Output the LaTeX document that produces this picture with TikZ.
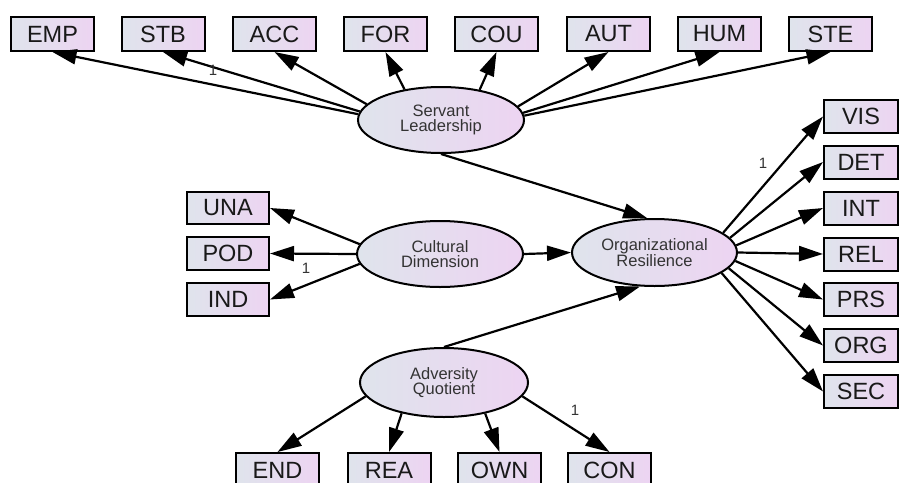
\documentclass[tikz,border=0pt]{standalone}
\usepackage{fontspec}
\setmainfont{Liberation Sans}
\usetikzlibrary{arrows.meta,shapes.geometric}
\definecolor{fillL}{HTML}{DFE4EC}
\definecolor{fillR}{HTML}{EDD4F2}
\definecolor{ltxt}{HTML}{333333}
\tikzset{
  obsbox/.style={draw=black,line width=2pt,left color=fillL,right color=fillR,
    minimum width=83pt,minimum height=34pt,inner sep=0pt,
    font=\fontsize{23.5}{24}\selectfont,text=black!90},
  latent/.style={ellipse,draw=black,line width=2pt,left color=fillL,right color=fillR,
    minimum width=166pt,minimum height=66pt,inner sep=0pt,align=center,
    font=\fontsize{16.5}{15.5}\selectfont,text=ltxt},
  path/.style={line width=2.2pt,-{Triangle[length=24pt,width=15pt]}},
  onelab/.style={font=\fontsize{15}{15}\selectfont,text=ltxt,inner sep=0pt}
}
\begin{document}
\begin{tikzpicture}[x=1pt,y=-1pt]
\useasboundingbox (0,0) rectangle (899,482);
\clip (0,0) rectangle (899,482);
\fill[white] (0,0) rectangle (899,482);
% latent variables
\node[latent] (sl) at (441,120) {Servant\\Leadership};
\node[latent] (cd) at (440,254) {Cultural\\Dimension};
\node[latent,minimum width=165pt,minimum height=67pt] (or) at (654.5,252.5) {Organizational\\Resilience};
\node[latent,minimum width=168pt,minimum height=69pt] (aq) at (444,382.5) {Adversity\\Quotient};
% top indicators
\node[obsbox] (emp) at (52.5,34) {EMP};
\node[obsbox] (stb) at (163,34) {STB};
\node[obsbox] (acc) at (274.5,34) {ACC};
\node[obsbox] (for) at (385.5,34) {FOR};
\node[obsbox] (cou) at (496.5,34) {COU};
\node[obsbox] (aut) at (608.5,34) {AUT};
\node[obsbox] (hum) at (719.5,34) {HUM};
\node[obsbox] (ste) at (830.5,34) {STE};
% left indicators
\node[obsbox,minimum width=82pt,minimum height=32pt] (una) at (228,208) {UNA};
\node[obsbox,minimum width=82pt,minimum height=33pt] (pod) at (228,253.5) {POD};
\node[obsbox,minimum width=82pt,minimum height=33pt] (ind) at (228,299.5) {IND};
% right indicators
\tikzset{rbox/.style={obsbox,minimum width=74pt,minimum height=33pt}}
\node[rbox] (vis) at (861,116.5) {VIS};
\node[rbox] (det) at (861,162) {DET};
\node[rbox] (int) at (861,208) {INT};
\node[rbox] (rel) at (861,254) {REL};
\node[rbox] (prs) at (861,299.5) {PRS};
\node[rbox] (org) at (861,345.5) {ORG};
\node[rbox] (sec) at (861,391.5) {SEC};
% bottom indicators
\node[obsbox] (end) at (277.5,470) {END};
\node[obsbox] (rea) at (389,470) {REA};
\node[obsbox] (own) at (499.5,470) {OWN};
\node[obsbox] (con) at (609.5,470) {CON};
% servant leadership paths
\draw[path] (sl.176) -- (emp.south);
\draw[path] (sl.174) -- (stb.south);
\draw[path] (sl.168) -- (acc.south);
\draw[path] (sl.140) -- (for.south);
\draw[path] (sl.38) -- (cou.south);
\draw[path] (sl.10) -- (aut.south);
\draw[path] (sl.5) -- (hum.south);
\draw[path] (sl.3) -- (ste.south);
% cultural dimension paths
\draw[path] (cd.173) -- (una.east);
\draw[path] (cd.west) -- (pod.east);
\draw[path] (cd.187) -- (ind.east);
% organizational resilience paths
\draw[path] (or.16) -- (vis.west);
\draw[path] (or.11) -- (det.west);
\draw[path] (or.5) -- (int.west);
\draw[path] (or.east) -- (rel.west);
\draw[path] (or.-6) -- (prs.west);
\draw[path] (or.-12) -- (org.west);
\draw[path] (or.-17) -- (sec.west);
% adversity quotient paths
\draw[path] (aq.190) -- (end.north);
\draw[path] (aq.216) -- (rea.north);
\draw[path] (aq.323) -- (own.north);
\draw[path] (aq.350) -- (con.north);
% structural paths
\draw[path] (sl.south) -- (or.102);
\draw[path] (cd.east) -- (or.west);
\draw[path] (aq.north) -- (or.247);
% labels
\node[onelab] (l1) at (213,70) {1};
\node[onelab] (l2) at (306,268) {1};
\node[onelab] (l3) at (763,163) {1};
\node[onelab] (l4) at (575,410) {1};
\end{tikzpicture}
\end{document}
